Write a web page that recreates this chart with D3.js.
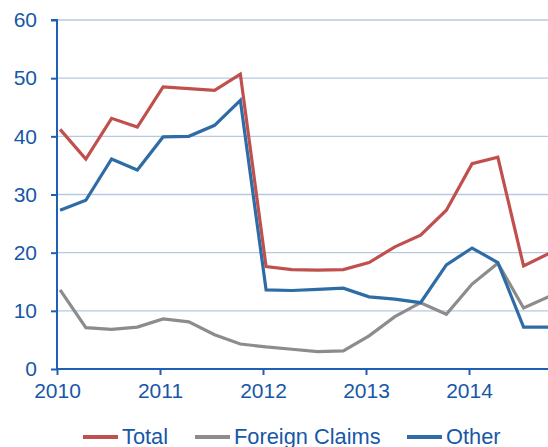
<!DOCTYPE html>
<html><head><meta charset="utf-8">
<script src="https://cdn.jsdelivr.net/npm/d3@7"></script>
<style>body{margin:0;background:#fff}svg{display:block}</style>
</head><body>
<svg id="c" width="548" height="447"></svg>
<script>
const quarters = ["2010Q1","2010Q2","2010Q3","2010Q4","2011Q1","2011Q2","2011Q3","2011Q4","2012Q1","2012Q2","2012Q3","2012Q4","2013Q1","2013Q2","2013Q3","2013Q4","2014Q1","2014Q2","2014Q3","2014Q4"];
const total = [41.2,36.1,43.1,41.6,48.5,48.2,47.9,50.7,17.6,17.1,17.0,17.1,18.3,21.0,23.0,27.3,35.3,36.4,17.7,19.9];
const foreignClaims = [13.6,7.1,6.8,7.2,8.6,8.1,5.9,4.3,3.8,3.4,3.0,3.1,5.7,9.0,11.4,9.4,14.6,18.2,10.5,12.5];
const other = [27.3,29.0,36.1,34.2,39.9,40.0,41.9,46.2,13.6,13.5,13.7,13.9,12.4,12.0,11.4,17.9,20.8,18.3,7.2,7.2];
const yTicks = [0,10,20,30,40,50,60];
const xTicks = [2010,2011,2012,2013,2014];
const seriesNames = ["Total","Foreign Claims","Other"];
const seriesColors = ["#c0504d","#8c8c8c","#2e6ca6"];

const svg = d3.select("#c");
const mLeft = 57, mTop = 20, mBottom = 369, mRight = 548;
const x = d3.scaleLinear().domain([2010, 2014.767]).range([mLeft, mRight]);
const y = d3.scaleLinear().domain([0, 60]).range([mBottom, mTop]);
const qx = q => +q.slice(0,4) + (+q.slice(5)-1)/4 + 0.03;

const axisColor = "#1f5fb4", textColor = "#1757a8";

// gridlines
svg.append("g").selectAll("line").data(yTicks.filter(d=>d>0)).join("line")
  .attr("x1", mLeft).attr("x2", mRight).attr("y1", d=>y(d)).attr("y2", d=>y(d))
  .attr("stroke", "#b9c8e2").attr("stroke-width", 1.3);

svg.append("clipPath").attr("id","clp").append("rect")
  .attr("x", mLeft).attr("y", 0).attr("width", mRight-mLeft).attr("height", 447);

const series = [total, foreignClaims, other];
const line = d3.line().x((d,i)=>x(qx(quarters[i]))).y(d=>y(d));
const g = svg.append("g").attr("clip-path","url(#clp)");
[1,0,2].forEach(k=>{
  g.append("path").datum(series[k]).attr("d", line)
    .attr("fill","none").attr("stroke", seriesColors[k]).attr("stroke-width", 3.2)
    .attr("stroke-linejoin","miter");
});

// y axis
const ya = svg.append("g").attr("transform",`translate(${mLeft},0)`)
  .call(d3.axisLeft(y).tickValues(yTicks).tickSize(6).tickPadding(14));
// x axis
const xa = svg.append("g").attr("transform",`translate(0,${mBottom})`)
  .call(d3.axisBottom(x).tickValues(xTicks).tickFormat(d3.format("d")).tickSize(6).tickPadding(8));
[ya,xa].forEach(a=>{
  a.select(".domain").attr("stroke", axisColor).attr("stroke-width", 2);
  a.selectAll(".tick line").attr("stroke", axisColor).attr("stroke-width", 2);
  a.selectAll(".tick text").attr("fill", textColor).style("font-family","Liberation Sans, Arial, sans-serif").style("font-size","21px");
});
ya.select(".domain").attr("d", `M-6,${mTop}H0V${mBottom}`);
xa.select(".domain").attr("d", `M${mLeft},0H${mRight}`);

// legend
const legX = [83, 195, 407];
const lg = svg.append("g");
seriesNames.forEach((n,i)=>{
  lg.append("line").attr("x1", legX[i]).attr("x2", legX[i]+35).attr("y1", 437).attr("y2", 437)
    .attr("stroke", seriesColors[i]).attr("stroke-width", 4);
  lg.append("text").attr("x", legX[i]+39).attr("y", 444).text(n)
    .attr("fill", textColor).style("font-family","Liberation Sans, Arial, sans-serif").style("font-size","21.8px");
});
</script>
</body></html>
